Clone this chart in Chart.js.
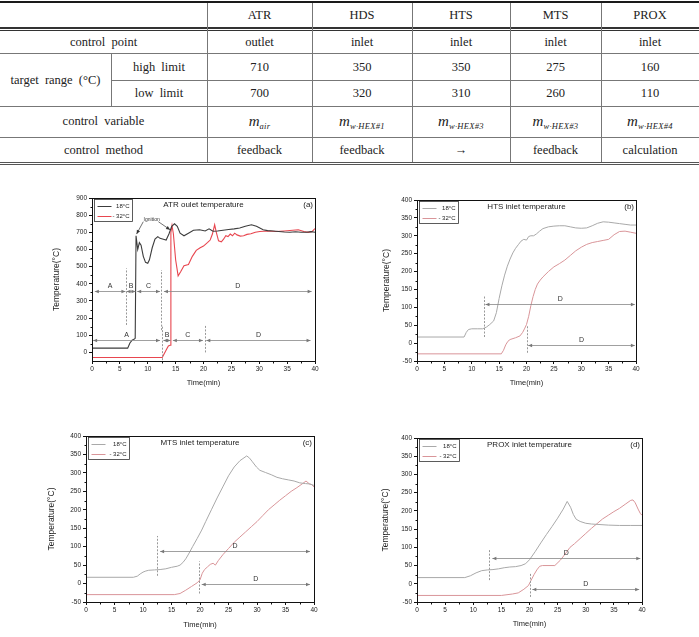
<!DOCTYPE html>
<html>
<head>
<meta charset="utf-8">
<title>Reformer start-up temperatures</title>
<script src="https://cdn.jsdelivr.net/npm/chart.js@4.4.0/dist/chart.umd.min.js"></script>
<style>
    body { margin: 0; width: 699px; height: 637px; background: #fff; position: relative; overflow: hidden; }
    #specTable { position: absolute; left: 0; top: 0; width: 699px; height: 166px; font-family: "Liberation Serif", "Times New Roman", serif; font-size: 12.5px; color: #222; }
    .cell { position: absolute; width: 150px; height: 20px; line-height: 20px; text-align: center; white-space: nowrap; word-spacing: 3px; }
    .cell .m { font-style: italic; font-size: 15px; }
    .cell sub { font-style: italic; font-size: 8.5px; letter-spacing: 0.3px; vertical-align: -3px; }
    .rule { position: absolute; }
    canvas { position: absolute; }
</style>
</head>
<body>
<div id="specTable"></div>
<canvas id="chartA"></canvas>
<canvas id="chartB"></canvas>
<canvas id="chartC"></canvas>
<canvas id="chartD"></canvas>
<script>
// ---- table data ----
const units = ['ATR', 'HDS', 'HTS', 'MTS', 'PROX'];
const controlPoint = ['outlet', 'inlet', 'inlet', 'inlet', 'inlet'];
const highLimit = [710, 350, 350, 275, 160];
const lowLimit = [700, 320, 310, 260, 110];
const controlVariable = ['air', 'w·HEX#1', 'w·HEX#3', 'w·HEX#3', 'w·HEX#4'];
const controlMethod = ['feedback', 'feedback', '→', 'feedback', 'calculation'];

// ---- chart data (time in min, temperature in °C) ----
const atrTime18 = [0, 6.4, 6.8, 7.2, 7.6, 7.75, 7.9, 8.2, 8.5, 8.8, 9.2, 9.6, 10.0, 10.3, 10.8, 11.3, 11.8, 12.2, 12.8, 13.3, 13.8, 14.3, 14.8, 15.3, 15.8, 16.5, 17.3, 18.2, 19.3, 20.3, 21.0, 21.7, 22.5, 23.5, 24.5, 25.5, 26.5, 27.5, 28.6, 29.5, 30.7, 31.5, 32.5, 33.5, 34.5, 35.5, 36.5, 37.5, 38.5, 39.3, 40];
const atrTemp18 = [25, 25, 55, 72, 78, 82, 680, 600, 640, 625, 560, 525, 520, 540, 610, 660, 675, 665, 660, 655, 690, 735, 750, 735, 695, 680, 695, 712, 715, 708, 720, 706, 708, 712, 716, 720, 725, 735, 744, 735, 715, 710, 708, 705, 702, 700, 703, 700, 700, 704, 700];
const atrTimeM32 = [0, 12.6, 13.0, 13.4, 13.7, 14.0, 14.15, 14.35, 14.6, 15.0, 15.45, 15.9, 16.5, 17.3, 18.0, 18.7, 19.4, 20.0, 20.7, 21.2, 21.6, 22.0, 22.3, 22.7, 23.2, 23.6, 24.0, 24.4, 24.8, 25.2, 25.6, 26.0, 26.6, 27.2, 27.8, 28.5, 29.3, 30.1, 31.5, 33, 34.5, 36, 37, 38, 38.8, 39.5, 40];
const atrTempM32 = [-30, -30, -5, 20, 38, 42, 700, 740, 690, 540, 446, 470, 505, 512, 560, 595, 610, 620, 640, 655, 690, 744, 700, 650, 645, 660, 680, 675, 690, 680, 695, 685, 678, 680, 688, 692, 700, 705, 708, 705, 708, 712, 715, 705, 700, 705, 722];

const htsTime18 = [0, 8.6, 9.0, 9.4, 10, 11, 12, 12.7, 13.3, 14, 14.5, 15, 15.5, 16, 16.5, 17, 17.5, 18, 18.5, 19, 19.5, 20, 20.4, 20.8, 21.3, 21.8, 22.4, 23, 24, 25, 26, 27, 28, 29, 30, 31, 32, 33, 34, 35, 36, 37, 38, 39, 40];
const htsTemp18 = [17, 17, 30, 38, 40, 40, 40, 45, 52, 62, 85, 125, 160, 190, 215, 235, 252, 265, 275, 285, 290, 288, 298, 300, 300, 305, 313, 320, 325, 327, 328, 328, 325, 322, 321, 322, 328, 335, 339, 338, 336, 334, 332, 330, 330];
const htsTimeM32 = [0, 15.4, 15.8, 16.2, 16.6, 17, 18, 18.8, 19.3, 19.7, 20, 20.4, 20.8, 21.2, 21.6, 22, 22.5, 23, 24, 25, 26, 27, 28, 29, 30, 31, 32, 33, 34, 35, 36, 37, 38, 39, 40];
const htsTempM32 = [-30, -30, -20, -5, 5, 10, 15, 20, 30, 42, 52, 75, 105, 130, 150, 165, 176, 185, 200, 213, 222, 232, 245, 258, 268, 276, 281, 284, 287, 290, 303, 312, 313, 310, 307];

const mtsTime18 = [0, 8.3, 9, 9.5, 10, 10.5, 11, 12, 13, 14, 15, 16, 16.5, 17, 17.5, 18, 18.7, 19.5, 20.3, 21, 22, 23, 24, 25, 26, 27, 28.2, 28.7, 29.2, 29.9, 30.5, 31.5, 32.5, 33.5, 34.5, 35.5, 36.5, 37.5, 38.5, 39.3, 40];
const mtsTemp18 = [17, 17, 20, 26, 31, 34, 36, 37, 38, 40, 44, 47, 50, 57, 67, 80, 100, 122, 145, 168, 200, 232, 262, 292, 316, 333, 346, 340, 330, 316, 307, 301, 295, 288, 284, 281, 278, 273, 271, 270, 266];
const mtsTimeM32 = [0, 15.5, 16.5, 17.5, 18.5, 19.5, 20, 20.4, 20.8, 21.3, 21.8, 22.3, 22.7, 23.2, 24, 25, 26, 27, 28, 29, 30, 31, 32, 33, 34, 35, 36, 37, 38, 38.6, 39.2, 39.6, 40];
const mtsTempM32 = [-30, -30, -27, -18, -8, 2, 10, 28, 38, 45, 52, 55, 50, 62, 78, 95, 112, 126, 140, 154, 168, 184, 200, 213, 226, 238, 250, 260, 271, 278, 270, 268, 262];

const proxTime18 = [0, 8.5, 9.5, 10.5, 11.5, 12.5, 13.5, 14.5, 15.5, 16.5, 17.5, 18.5, 19.3, 20, 21, 22, 23, 24, 25, 26, 26.7, 27.3, 27.8, 28.3, 29, 30, 31, 32, 34, 36, 38, 40];
const proxTemp18 = [17, 17, 22, 30, 36, 38, 39, 41, 44, 46, 47, 50, 55, 66, 88, 112, 135, 157, 180, 205, 226, 210, 190, 177, 171, 166, 164, 163, 161, 160, 160, 160];
const proxTimeM32 = [0, 15, 16, 17, 18, 19, 19.8, 20.3, 20.8, 21.3, 21.8, 22.3, 24.5, 25.5, 26.5, 27.2, 28, 29, 30, 31, 32, 33, 34, 35, 36, 37, 38, 38.4, 38.8, 39.3, 39.7, 40];
const proxTempM32 = [-32, -32, -30, -28, -25, -15, -5, 10, 25, 38, 48, 50, 50, 65, 85, 100, 110, 124, 138, 152, 165, 178, 188, 198, 207, 218, 229, 230, 222, 205, 193, 188];

// axis ticks
const timeTicks = [0, 40, 5];          // min, max, step
const atrTempTicks = [-50, 900, 100];
const inletTempTicks = [-50, 400, 50];

// phase markers: dashed dividers [time, from, to] and arrows [from, to, temp, label]
const atrDividers = [[6.05, 160, 490], [12.45, 130, 480], [12.6, -45, 160], [20.2, 0, 160]];
const atrPhases = [[0.5, 6.0, 360, 'A'], [6.2, 7.8, 360, 'B'], [8.1, 12.2, 360, 'C'], [12.9, 39.4, 360, 'D'],
                   [0.2, 12.2, 70, 'A'], [12.8, 14.1, 70, 'B'], [14.5, 19.9, 70, 'C'], [20.5, 39.2, 70, 'D']];
const htsDividers = [[12.3, 17, 134], [20.05, -27, 47]];
const htsPhases = [[12.5, 39.8, 110, 'D'], [20.3, 39.8, -5, 'D']];
const mtsDividers = [[12.4, 21, 129], [19.85, -27, 60]];
const mtsPhases = [[13.0, 39.3, 88, 'D'], [20.3, 39.3, 0, 'D']];
const proxDividers = [[12.8, 10, 95], [20.0, -36, 28]];
const proxPhases = [[13.4, 39.7, 70, 'D'], [20.5, 39.5, -13, 'D']];
// ignition note: text position, then the two points it points at
const ignitionText = [10.7, 772];
const ignitionFrom = [[9.2, 762], [11.9, 762]];
const ignitionTo = [[8.0, 690], [14.0, 715]];

// ---------------- table ----------------
const tableEl = document.getElementById('specTable');
const colEdges = [207, 312, 412, 510, 601, 699];
const colCenters = colEdges.slice(0, -1).map((e, i) => (e + colEdges[i + 1]) / 2);

function addRule(left, top, width, height, css) {
    const d = document.createElement('div');
    d.className = 'rule';
    d.style.left = left + 'px';
    d.style.top = top + 'px';
    d.style.width = width + 'px';
    d.style.height = height + 'px';
    d.style.cssText += css;
    tableEl.appendChild(d);
}

function addCell(html, cx, cy) {
    const d = document.createElement('div');
    d.className = 'cell';
    d.style.left = (cx - 75) + 'px';
    d.style.top = (cy - 10) + 'px';
    d.innerHTML = html;
    tableEl.appendChild(d);
}

// horizontal rules
addRule(0, 1, 699, 2, 'background:#1a1a1a;');
addRule(0, 27, 699, 4, 'border-top:2px solid #333;border-bottom:1px solid #333;box-sizing:border-box;');
addRule(0, 53, 699, 1, 'background:#777;');
addRule(111, 80, 588, 1, 'background:#777;');
addRule(0, 106, 699, 1, 'background:#777;');
addRule(0, 137, 699, 1, 'background:#777;');
addRule(0, 162, 699, 3, 'border-top:1px solid #555;border-bottom:1px solid #555;box-sizing:border-box;');
// vertical rules
colEdges.slice(0, -1).forEach(x => addRule(x, 3, 1, 159, 'background:#777;'));
addRule(111, 53, 1, 53, 'background:#777;');

units.forEach((u, i) => addCell(u, colCenters[i], 15));
addCell('control point', 103.5, 42);
controlPoint.forEach((t, i) => addCell(t, colCenters[i], 42));
addCell('target range (°C)', 55.5, 80);
addCell('high limit', 159, 67);
highLimit.forEach((t, i) => addCell(t, colCenters[i], 67));
addCell('low limit', 159, 93);
lowLimit.forEach((t, i) => addCell(t, colCenters[i], 93));
addCell('control variable', 103.5, 121);
controlVariable.forEach((t, i) => addCell('<span class="m">m</span><sub>' + t + '</sub>', colCenters[i], 121));
addCell('control method', 103.5, 150);
controlMethod.forEach((t, i) => addCell(t, colCenters[i], 150));

// ---------------- charts ----------------
Chart.defaults.font.family = '"Liberation Sans", Arial, sans-serif';
Chart.defaults.color = '#222';

function toPoints(xs, ys) {
    return xs.map((x, i) => ({ x: x, y: ys[i] }));
}

function drawArrowHead(ctx, x, y, dx) {
    // small filled head pointing along dx (+1 right, -1 left)
    ctx.beginPath();
    ctx.moveTo(x, y);
    ctx.lineTo(x - dx * 4, y - 1.8);
    ctx.lineTo(x - dx * 4, y + 1.8);
    ctx.closePath();
    ctx.fill();
}

function drawSlantArrow(ctx, x0, y0, x1, y1) {
    ctx.beginPath();
    ctx.moveTo(x0, y0);
    ctx.lineTo(x1, y1);
    ctx.stroke();
    const ang = Math.atan2(y1 - y0, x1 - x0);
    ctx.beginPath();
    ctx.moveTo(x1, y1);
    ctx.lineTo(x1 - 4 * Math.cos(ang) + 1.8 * Math.sin(ang), y1 - 4 * Math.sin(ang) - 1.8 * Math.cos(ang));
    ctx.lineTo(x1 - 4 * Math.cos(ang) - 1.8 * Math.sin(ang), y1 - 4 * Math.sin(ang) + 1.8 * Math.cos(ang));
    ctx.closePath();
    ctx.fill();
}

const panelPlugin = {
    id: 'panel',
    afterDatasetsDraw(chart, args, opts) {
        const ctx = chart.ctx;
        const area = chart.chartArea;
        const xs = chart.scales.x;
        const ys = chart.scales.y;
        ctx.save();

        // dashed phase dividers
        ctx.strokeStyle = '#999';
        ctx.lineWidth = 1;
        ctx.setLineDash([2, 1.5]);
        (opts.dividers || []).forEach(d => {
            const px = Math.round(xs.getPixelForValue(d[0])) + 0.5;
            ctx.beginPath();
            ctx.moveTo(px, ys.getPixelForValue(d[1]));
            ctx.lineTo(px, ys.getPixelForValue(d[2]));
            ctx.stroke();
        });
        ctx.setLineDash([]);

        // double-headed phase arrows with labels
        ctx.strokeStyle = '#888';
        ctx.fillStyle = '#777';
        ctx.lineWidth = 0.8;
        ctx.font = '7px "Liberation Sans", Arial, sans-serif';
        ctx.textAlign = 'center';
        ctx.textBaseline = 'middle';
        (opts.phases || []).forEach(p => {
            const x0 = xs.getPixelForValue(p[0]);
            const x1 = xs.getPixelForValue(p[1]);
            const py = Math.round(ys.getPixelForValue(p[2])) + 0.5;
            ctx.beginPath();
            ctx.moveTo(x0, py);
            ctx.lineTo(x1, py);
            ctx.stroke();
            drawArrowHead(ctx, x0, py, -1);
            drawArrowHead(ctx, x1, py, 1);
            ctx.fillStyle = '#333';
            ctx.fillText(p[3], (x0 + x1) / 2, py - 5);
            ctx.fillStyle = '#777';
        });

        // ignition note (panel a only)
        if (opts.ignition) {
            ctx.fillStyle = '#333';
            ctx.strokeStyle = '#333';
            ctx.lineWidth = 0.7;
            ctx.font = '5px "Liberation Sans", Arial, sans-serif';
            ctx.fillText('Ignition', xs.getPixelForValue(ignitionText[0]), ys.getPixelForValue(ignitionText[1]));
            ignitionFrom.forEach((f, i) => {
                drawSlantArrow(ctx, xs.getPixelForValue(f[0]), ys.getPixelForValue(f[1]),
                    xs.getPixelForValue(ignitionTo[i][0]), ys.getPixelForValue(ignitionTo[i][1]));
            });
        }

        // frame around the plot
        const l = Math.round(area.left) + 0.5, t = Math.round(area.top) + 0.5;
        const r = Math.round(area.right) + 0.5, b = Math.round(area.bottom) + 0.5;
        ctx.strokeStyle = '#111';
        ctx.lineWidth = 1;
        ctx.strokeRect(l, t, r - l, b - t);

        // minor ticks (outside, bottom and left)
        ctx.beginPath();
        for (let v = xs.min + opts.xMinor; v < xs.max; v += opts.xMinor * 2) {
            const px = Math.round(xs.getPixelForValue(v)) + 0.5;
            ctx.moveTo(px, b);
            ctx.lineTo(px, b + 2);
        }
        for (let v = opts.yMinorStart; v < ys.max; v += opts.yMinor * 2) {
            const py = Math.round(ys.getPixelForValue(v)) + 0.5;
            ctx.moveTo(l, py);
            ctx.lineTo(l - 2, py);
        }
        ctx.stroke();

        // title and panel letter inside the plot
        const ty = area.top + 7;
        ctx.fillStyle = '#222';
        ctx.font = '8px "Liberation Sans", Arial, sans-serif';
        ctx.textAlign = 'center';
        ctx.fillText(opts.title, (area.left + area.right) / 2, ty);
        ctx.textAlign = 'right';
        ctx.fillText(opts.letter, area.right - 2, ty);

        // legend box top-left
        const lx = Math.round(area.left) + 2.5, ly = Math.round(area.top) + 1.5;
        const lw = opts.legendWidth, lh = 22;
        ctx.fillStyle = '#fff';
        ctx.fillRect(lx, ly, lw, lh);
        ctx.strokeStyle = '#333';
        ctx.lineWidth = 0.8;
        ctx.strokeRect(lx, ly, lw, lh);
        ctx.font = '6px "Liberation Sans", Arial, sans-serif';
        ctx.textAlign = 'right';
        chart.data.datasets.forEach((ds, i) => {
            const rowY = Math.round(ly + 6 + i * 10.5) + 0.5;
            ctx.strokeStyle = ds.borderColor;
            ctx.lineWidth = 1;
            ctx.beginPath();
            ctx.moveTo(lx + 3, rowY);
            ctx.lineTo(lx + 17, rowY);
            ctx.stroke();
            ctx.fillStyle = '#222';
            ctx.fillText(ds.label, lx + lw - 3, rowY);
        });

        ctx.restore();
    }
};

function makePanel(id, box, plot, yTitleX, xTitleY, series, tempTicks, panelOpts) {
    const canvas = document.getElementById(id);
    const [cx, cy, cw, ch] = box;
    const [L, T, R, B] = plot;
    canvas.width = cw;
    canvas.height = ch;
    canvas.style.left = cx + 'px';
    canvas.style.top = cy + 'px';

    const yTitleSize = 8.5, xTitleSize = 7.5;
    const padLeft = yTitleX - cx - yTitleSize * 0.6;
    const yWidth = L - cx - padLeft;
    const padBottom = cy + ch - xTitleY - xTitleSize * 0.6;
    const xHeight = cy + ch - padBottom - B;

    return new Chart(canvas.getContext('2d'), {
        type: 'line',
        data: {
            datasets: series.map(s => ({
                label: s.label,
                data: toPoints(s.x, s.y),
                borderColor: s.color,
                borderWidth: s.width || 1,
                pointRadius: 0,
                fill: false,
                tension: 0
            }))
        },
        options: {
            responsive: false,
            animation: false,
            events: [],
            layout: { padding: { left: padLeft, top: T - cy, right: cx + cw - R, bottom: padBottom } },
            plugins: {
                legend: { display: false },
                tooltip: { enabled: false },
                panel: panelOpts
            },
            scales: {
                x: {
                    type: 'linear',
                    min: timeTicks[0],
                    max: timeTicks[1],
                    ticks: { stepSize: timeTicks[2], font: { size: 6.5 }, color: '#222', padding: 1, maxRotation: 0, autoSkip: false },
                    grid: { drawOnChartArea: false, tickLength: 3, color: '#111' },
                    border: { color: '#111' },
                    title: { display: true, text: 'Time(min)', font: { size: xTitleSize }, color: '#222', padding: 0 },
                    afterFit(scale) { scale.height = xHeight; }
                },
                y: {
                    type: 'linear',
                    min: tempTicks[0],
                    max: tempTicks[1],
                    ticks: { stepSize: tempTicks[2], font: { size: 6.5 }, color: '#222', padding: 2, includeBounds: panelOpts.tickBounds, autoSkip: false },
                    grid: { drawOnChartArea: false, tickLength: 3, color: '#111' },
                    border: { color: '#111' },
                    title: { display: true, text: 'Temperature(°C)', font: { size: yTitleSize }, color: '#222', padding: 0 },
                    afterFit(scale) { scale.width = yWidth; }
                }
            }
        },
        plugins: [panelPlugin]
    });
}

const grey18 = '#a9a9a9';
const pinkM32 = '#d99599';

makePanel('chartA', [40, 188, 285, 205], [92, 198, 315, 361], 57, 383, [
    { label: '18°C', x: atrTime18, y: atrTemp18, color: '#3c3c3c', width: 1.1 },
    { label: '- 32°C', x: atrTimeM32, y: atrTempM32, color: '#e8464f', width: 1.1 }
], atrTempTicks, {
    title: 'ATR oulet temperature', letter: '(a)', dividers: atrDividers, phases: atrPhases,
    ignition: true, xMinor: 2.5, yMinor: 50, yMinorStart: 50, legendWidth: 38, tickBounds: false
});

makePanel('chartB', [360, 190, 290, 205], [417, 200, 636, 361], 387, 383, [
    { label: '18°C', x: htsTime18, y: htsTemp18, color: grey18 },
    { label: '- 32°C', x: htsTimeM32, y: htsTempM32, color: pinkM32 }
], inletTempTicks, {
    title: 'HTS inlet temperature', letter: '(b)', dividers: htsDividers, phases: htsPhases,
    xMinor: 2.5, yMinor: 25, yMinorStart: -25, legendWidth: 39, tickBounds: true
});

makePanel('chartC', [30, 425, 295, 210], [86, 436, 314, 602], 52, 625, [
    { label: '18°C', x: mtsTime18, y: mtsTemp18, color: grey18 },
    { label: '- 32°C', x: mtsTimeM32, y: mtsTempM32, color: pinkM32 }
], inletTempTicks, {
    title: 'MTS inlet temperature', letter: '(c)', dividers: mtsDividers, phases: mtsPhases,
    xMinor: 2.5, yMinor: 25, yMinorStart: -25, legendWidth: 41, tickBounds: true
});

makePanel('chartD', [360, 427, 299, 208], [417, 438, 642, 602], 386, 624, [
    { label: '18°C', x: proxTime18, y: proxTemp18, color: grey18 },
    { label: '- 32°C', x: proxTimeM32, y: proxTempM32, color: pinkM32 }
], inletTempTicks, {
    title: 'PROX inlet temperature', letter: '(d)', dividers: proxDividers, phases: proxPhases,
    xMinor: 2.5, yMinor: 25, yMinorStart: -25, legendWidth: 40, tickBounds: true
});
</script>
</body>
</html>
